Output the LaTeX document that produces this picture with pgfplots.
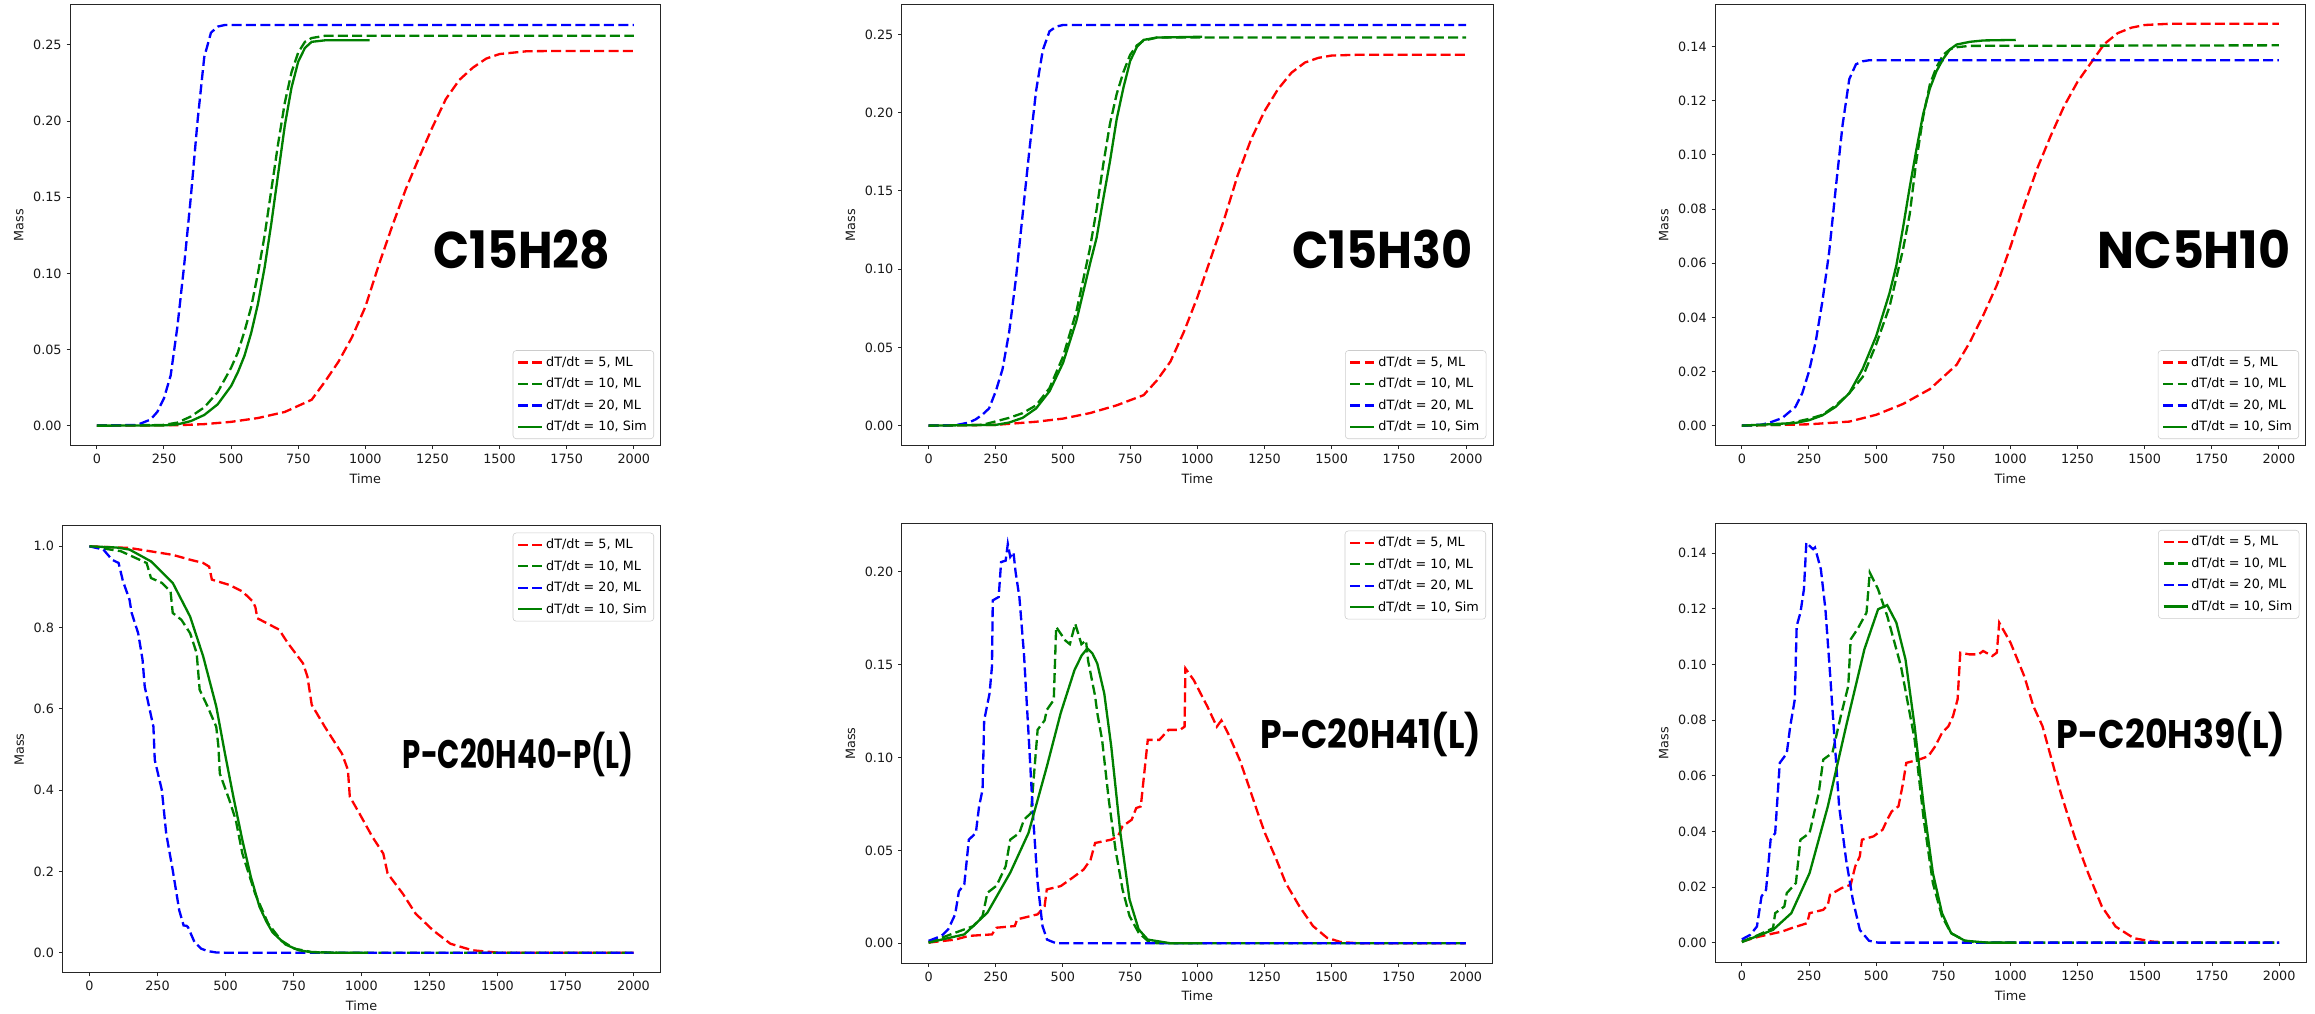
\documentclass[border=0pt]{standalone}
\usepackage{pgfplots}
\pgfplotsset{compat=1.18}
\usepackage{fontspec}
\setmainfont{DejaVu Sans}
\newfontfamily\bigfont{Poppins}
\definecolor{mplgreen}{RGB}{0,128,0}
\pgfplotsset{
  rd/.style={color=red, line width=0.058cm, dash pattern=on 0.25cm off 0.108cm},
  gd/.style={color=mplgreen, line width=0.058cm, dash pattern=on 0.25cm off 0.108cm},
  bd/.style={color=blue, line width=0.058cm, dash pattern=on 0.25cm off 0.108cm},
  gs/.style={color=mplgreen, line width=0.058cm, solid},
  mlax/.style={
    scale only axis,
    anchor=south west,
    xmin=-100, xmax=2100,
    xtick={0,250,500,750,1000,1250,1500,1750,2000},
    tick pos=left,
    tick align=outside,
    major tick length=0.085cm,
    every tick/.style={line width=0.025cm, black!85},
    axis line style={line width=0.025cm, black!85},
    xlabel={Time}, ylabel={Mass},
    /pgf/number format/assume math mode=true,
    /pgf/number format/set thousands separator={},
    tick label style={font=\fontsize{9.1}{11}\selectfont, text=black!90},
    label style={font=\fontsize{9.1}{11}\selectfont, text=black!90},
    yticklabel style={/pgf/number format/.cd, fixed, fixed zerofill, precision=2},
    legend style={font=\fontsize{9.1}{11}\selectfont, draw=black!20, rounded corners=0.08cm,
      fill=white, fill opacity=0.8, text opacity=1, row sep=0.1cm, inner xsep=0.1cm, inner ysep=0.08cm},
    legend cell align=left,
  },
  lr/.style={legend style={at={(1,0)}, anchor=south east, xshift=-0.167cm, yshift=0.167cm}},
  ur/.style={legend style={at={(1,1)}, anchor=north east, xshift=-0.167cm, yshift=-0.167cm}},
}
\begin{document}
\begin{tikzpicture}
\path[use as bounding box] (0,0) rectangle (57.875cm,25.35cm);

% ---------- Panel 1: C15H28 ----------
\begin{axis}[mlax, lr, at={(1.75cm,14.2075cm)}, width=14.7675cm, height=11.0175cm,
  ymin=-0.01315, ymax=0.2762, ytick={0,0.05,0.1,0.15,0.2,0.25}]
\addplot[rd] coordinates {(0,0) (300,0.0003) (400,0.001) (500,0.0025) (600,0.005) (700,0.009) (800,0.017) (850,0.029) (900,0.042) (950,0.058) (1000,0.078) (1050,0.1055) (1100,0.131) (1150,0.155) (1200,0.176) (1250,0.196) (1300,0.2145) (1350,0.227) (1400,0.235) (1450,0.241) (1500,0.244) (1600,0.2458) (1700,0.246) (2000,0.246)};
\addlegendentry{dT/dt = 5, ML}
\addplot[gd] coordinates {(0,0) (250,0.0005) (300,0.002) (350,0.006) (400,0.012) (450,0.022) (500,0.038) (525,0.048) (550,0.062) (575,0.078) (600,0.100) (625,0.125) (650,0.155) (675,0.185) (700,0.212) (725,0.232) (750,0.245) (775,0.252) (800,0.2545) (850,0.256) (2000,0.256)};
\addlegendentry{dT/dt = 10, ML}
\addplot[bd] coordinates {(0,0) (150,0.0005) (200,0.004) (225,0.009) (250,0.018) (275,0.033) (300,0.065) (325,0.105) (350,0.15) (375,0.2) (400,0.242) (425,0.258) (450,0.262) (475,0.263) (2000,0.263)};
\addlegendentry{dT/dt = 20, ML}
\addplot[gs] coordinates {(0,0) (250,0.0002) (300,0.0008) (350,0.003) (400,0.007) (450,0.014) (500,0.026) (525,0.035) (550,0.046) (575,0.061) (600,0.080) (625,0.104) (650,0.133) (675,0.165) (700,0.197) (725,0.222) (750,0.239) (775,0.248) (800,0.252) (850,0.253) (1016,0.253)};
\addlegendentry{dT/dt = 10, Sim}
\end{axis}

% ---------- Panel 2: C15H30 ----------
\begin{axis}[mlax, lr, at={(22.5425cm,14.2075cm)}, width=14.7825cm, height=11.0175cm,
  ymin=-0.0128, ymax=0.2688, ytick={0,0.05,0.1,0.15,0.2,0.25}]
\addplot[rd] coordinates {(0,0) (250,0.0005) (400,0.0025) (500,0.0045) (600,0.008) (700,0.013) (800,0.0195) (850,0.029) (900,0.041) (950,0.060) (1000,0.082) (1050,0.107) (1100,0.132) (1150,0.160) (1200,0.183) (1250,0.201) (1300,0.215) (1350,0.2255) (1400,0.232) (1450,0.235) (1500,0.2365) (1600,0.237) (2000,0.237)};
\addlegendentry{dT/dt = 5, ML}
\addplot[gd] coordinates {(0,0) (200,0.0005) (300,0.005) (350,0.008) (400,0.013) (450,0.024) (500,0.044) (550,0.073) (600,0.113) (625,0.138) (650,0.167) (675,0.193) (700,0.212) (725,0.226) (750,0.237) (775,0.243) (800,0.246) (850,0.248) (2000,0.248)};
\addlegendentry{dT/dt = 10, ML}
\addplot[bd] coordinates {(0,0) (100,0.0003) (150,0.002) (175,0.004) (200,0.007) (225,0.011) (250,0.022) (275,0.036) (300,0.060) (325,0.094) (350,0.135) (375,0.176) (400,0.214) (425,0.240) (450,0.252) (475,0.255) (500,0.256) (2000,0.256)};
\addlegendentry{dT/dt = 20, ML}
\addplot[gs] coordinates {(0,0) (250,0.0005) (300,0.002) (350,0.005) (400,0.011) (450,0.022) (500,0.040) (550,0.067) (575,0.085) (600,0.103) (625,0.120) (650,0.145) (675,0.169) (700,0.196) (725,0.216) (750,0.233) (775,0.242) (800,0.2465) (850,0.248) (1018,0.2485)};
\addlegendentry{dT/dt = 10, Sim}
\end{axis}

% ---------- Panel 3: NC5H10 ----------
\begin{axis}[mlax, lr, at={(42.875cm,14.2075cm)}, width=14.7675cm, height=11.0175cm,
  ymin=-0.0074, ymax=0.1554, ytick={0,0.02,0.04,0.06,0.08,0.1,0.12,0.14}]
\addplot[rd] coordinates {(0,0) (250,0.0005) (400,0.0015) (500,0.004) (600,0.008) (700,0.0135) (800,0.0225) (850,0.031) (900,0.041) (950,0.052) (1000,0.066) (1050,0.081) (1100,0.095) (1150,0.107) (1200,0.118) (1250,0.127) (1300,0.134) (1350,0.141) (1400,0.145) (1450,0.147) (1500,0.148) (1600,0.1485) (2000,0.1485)};
\addlegendentry{dT/dt = 5, ML}
\addplot[gd] coordinates {(0,0) (150,0.0003) (250,0.0025) (300,0.004) (350,0.0075) (400,0.012) (450,0.018) (500,0.030) (550,0.044) (600,0.065) (625,0.078) (650,0.098) (675,0.114) (700,0.126) (725,0.1325) (750,0.137) (775,0.139) (800,0.1398) (850,0.1403) (2000,0.1405)};
\addlegendentry{dT/dt = 10, ML}
\addplot[bd] coordinates {(0,0) (75,0.0004) (100,0.001) (150,0.0028) (200,0.007) (225,0.012) (250,0.020) (275,0.031) (300,0.046) (325,0.064) (350,0.088) (375,0.111) (400,0.128) (425,0.1335) (450,0.1346) (475,0.135) (2000,0.135)};
\addlegendentry{dT/dt = 20, ML}
\addplot[gs] coordinates {(0,0) (200,0.001) (250,0.002) (300,0.0038) (350,0.007) (400,0.012) (450,0.021) (500,0.033) (550,0.049) (575,0.059) (600,0.073) (625,0.088) (650,0.102) (675,0.115) (700,0.1245) (725,0.131) (750,0.1355) (775,0.139) (800,0.1408) (850,0.1418) (900,0.1423) (1020,0.1425)};
\addlegendentry{dT/dt = 10, Sim}
\end{axis}

% ---------- Panel 4: P-C20H40-P(L) ----------
\begin{axis}[mlax, ur, at={(1.5575cm,1.025cm)}, width=14.96cm, height=11.175cm,
  ymin=-0.05, ymax=1.05, ytick={0,0.2,0.4,0.6,0.8,1.0},
  yticklabel style={/pgf/number format/.cd, fixed, fixed zerofill, precision=1}]
\addplot[rd] coordinates {(0,1.0) (147,0.996) (306,0.979) (370,0.967) (418,0.959) (440,0.950) (450,0.918) (514,0.905) (562,0.889) (601,0.864) (610,0.85) (617,0.823) (697,0.795) (729,0.762) (785,0.712) (801,0.680) (817,0.610) (865,0.556) (928,0.490) (950,0.450) (957,0.384) (992,0.343) (1040,0.285) (1080,0.244) (1096,0.195) (1152,0.145) (1199,0.096) (1263,0.055) (1327,0.022) (1407,0.006) (1502,0) (2000,0)};
\addlegendentry{dT/dt = 5, ML}
\addplot[gd] coordinates {(0,1.0) (115,0.988) (210,0.959) (226,0.922) (266,0.910) (298,0.889) (306,0.836) (338,0.819) (370,0.786) (394,0.737) (405,0.647) (434,0.606) (466,0.556) (474,0.507) (479,0.441) (514,0.376) (538,0.326) (562,0.244) (609,0.145) (657,0.0715) (705,0.030) (753,0.010) (817,0.0016) (912,0) (2000,0)};
\addlegendentry{dT/dt = 10, ML}
\addplot[bd] coordinates {(0,1.0) (51,0.992) (83,0.967) (107,0.959) (123,0.914) (147,0.869) (155,0.836) (179,0.786) (195,0.721) (203,0.655) (235,0.556) (240,0.474) (266,0.400) (282,0.293) (306,0.203) (330,0.104) (346,0.067) (357,0.066) (362,0.063) (386,0.026) (410,0.010) (434,0.004) (466,0.0005) (498,0) (2000,0)};
\addlegendentry{dT/dt = 20, ML}
\addplot[gs] coordinates {(0,1.0) (100,0.997) (147,0.992) (226,0.963) (306,0.910) (370,0.827) (418,0.729) (466,0.606) (498,0.490) (530,0.380) (562,0.277) (593,0.187) (625,0.113) (650,0.077) (673,0.050) (721,0.020) (769,0.006) (817,0.001) (900,0) (1024,0)};
\addlegendentry{dT/dt = 10, Sim}
\end{axis}

% ---------- Panel 5: P-C20H41(L) ----------
\begin{axis}[mlax, ur, at={(22.5425cm,1.2675cm)}, width=14.775cm, height=10.9825cm,
  ymin=-0.01075, ymax=0.2257, ytick={0,0.05,0.1,0.15,0.2}]
\addplot[rd] coordinates {(0,0.0004) (99,0.002) (150,0.004) (236,0.0048) (253,0.0084) (321,0.0093) (330,0.0129) (406,0.0156) (432,0.020) (440,0.029) (492,0.0308) (535,0.0352) (577,0.0397) (603,0.045) (620,0.054) (680,0.0558) (705,0.0576) (722,0.063) (756,0.0665) (773,0.0728) (790,0.0737) (799,0.0862) (816,0.1095) (859,0.1095) (893,0.1149) (936,0.1149) (953,0.1166) (956,0.148) (987,0.1417) (1038,0.1274) (1073,0.1166) (1090,0.120) (1115,0.113) (1158,0.0988) (1184,0.088) (1226,0.070) (1252,0.0594) (1295,0.045) (1329,0.0326) (1380,0.020) (1431,0.0093) (1483,0.003) (1534,0.0007) (1602,0) (2000,0)};
\addlegendentry{dT/dt = 5, ML}
\addplot[gd] coordinates {(0,0.0004) (133,0.0075) (167,0.0093) (201,0.0147) (219,0.0272) (253,0.031) (287,0.0415) (304,0.0558) (338,0.0594) (355,0.0665) (381,0.0701) (406,0.115) (432,0.120) (440,0.1256) (466,0.131) (475,0.1703) (509,0.163) (526,0.161) (546,0.172) (569,0.161) (586,0.163) (594,0.152) (620,0.133) (628,0.124) (646,0.1095) (671,0.077) (696,0.0504) (722,0.029) (748,0.0147) (782,0.0057) (816,0.0013) (850,0) (2000,0)};
\addlegendentry{dT/dt = 10, ML}
\addplot[bd] coordinates {(0,0.0013) (48,0.004) (73,0.0075) (99,0.0156) (113,0.028) (133,0.0317) (150,0.0558) (176,0.0594) (188,0.0737) (201,0.0827) (207,0.120) (227,0.1345) (236,0.149) (239,0.1846) (261,0.1864) (270,0.2052) (287,0.206) (295,0.215) (304,0.208) (316,0.2105) (324,0.1998) (338,0.1864) (355,0.156) (372,0.113) (389,0.0683) (406,0.0326) (424,0.0093) (441,0.002) (475,0) (2000,0)};
\addlegendentry{dT/dt = 20, ML}
\addplot[gs] coordinates {(0,0.0004) (133,0.0048) (219,0.0165) (304,0.038) (372,0.0594) (440,0.095) (492,0.124) (543,0.147) (570,0.155) (591,0.1587) (610,0.156) (628,0.1506) (654,0.1345) (680,0.106) (714,0.0594) (748,0.0236) (782,0.0075) (816,0.002) (902,0) (1018,0)};
\addlegendentry{dT/dt = 10, Sim}
\end{axis}

% ---------- Panel 6: P-C20H39(L) ----------
\begin{axis}[mlax, ur, at={(42.875cm,1.2825cm)}, width=14.775cm, height=10.985cm,
  ymin=-0.0072, ymax=0.1507, ytick={0,0.02,0.04,0.06,0.08,0.1,0.12,0.14}]
\addplot[rd] coordinates {(0,0.0004) (65,0.0022) (150,0.004) (184,0.0052) (243,0.007) (252,0.0106) (303,0.0118) (320,0.0136) (328,0.0172) (371,0.0196) (405,0.0208) (422,0.0274) (439,0.031) (447,0.037) (490,0.0382) (524,0.0406) (541,0.0442) (558,0.0472) (583,0.049) (600,0.0574) (612,0.0646) (660,0.0658) (694,0.067) (720,0.0706) (745,0.0754) (769,0.0778) (786,0.0814) (803,0.0874) (813,0.1042) (847,0.1036) (881,0.1036) (898,0.1048) (932,0.103) (949,0.1042) (958,0.115) (1000,0.1078) (1051,0.0958) (1085,0.085) (1119,0.0778) (1153,0.0658) (1187,0.0538) (1238,0.0382) (1289,0.025) (1340,0.013) (1391,0.0058) (1459,0.0016) (1527,0.0004) (1595,0) (2000,0)};
\addlegendentry{dT/dt = 5, ML}
\addplot[gd] coordinates {(0,0.0004) (48,0.0022) (116,0.0052) (124,0.0106) (158,0.013) (167,0.0178) (201,0.0214) (218,0.037) (252,0.0394) (269,0.0466) (286,0.0538) (303,0.0658) (337,0.0682) (354,0.0754) (371,0.0826) (396,0.0922) (405,0.109) (430,0.1126) (464,0.1186) (476,0.133) (507,0.127) (541,0.1174) (592,0.0994) (643,0.073) (677,0.0442) (711,0.0214) (745,0.0094) (779,0.0034) (830,0.0007) (881,0) (2000,0)};
\addlegendentry{dT/dt = 10, ML}
\addplot[bd] coordinates {(0,0.0012) (31,0.0028) (56,0.0058) (73,0.0166) (90,0.019) (107,0.037) (124,0.0394) (141,0.0646) (167,0.068) (180,0.0778) (197,0.0874) (204,0.1138) (218,0.1186) (231,0.127) (240,0.1438) (252,0.1426) (265,0.1414) (272,0.142) (294,0.1342) (311,0.1198) (328,0.097) (345,0.073) (362,0.049) (388,0.0298) (413,0.0154) (439,0.0046) (473,0.0007) (507,0) (2000,0)};
\addlegendentry{dT/dt = 20, ML}
\addplot[gs] coordinates {(0,0.0002) (116,0.0046) (184,0.0106) (252,0.025) (320,0.049) (388,0.0778) (456,0.1054) (507,0.1198) (541,0.1213) (575,0.115) (609,0.1018) (643,0.0778) (677,0.049) (711,0.025) (745,0.0106) (779,0.0034) (830,0.0007) (915,0) (1020,0)};
\addlegendentry{dT/dt = 10, Sim}
\end{axis}

% ---------- Big compound labels ----------
\begin{scope}[every node/.style={inner sep=0pt, anchor=base}]
\node[font=\bigfont\bfseries\fontsize{35}{40}\selectfont, xscale=0.96, yscale=1.05] at (13.05cm,18.64cm) {C15H28};
\node[font=\bigfont\bfseries\fontsize{35}{40}\selectfont, xscale=0.97, yscale=1.05] at (34.5625cm,18.64cm) {C15H30};
\node[font=\bigfont\bfseries\fontsize{35}{40}\selectfont, xscale=1.0, yscale=1.05] at (54.85cm,18.64cm) {NC5H10};
\node[font=\bigfont\bfseries\fontsize{27}{32}\selectfont, xscale=0.77, yscale=1.05] at (12.95cm,6.14cm) {P-C20H40-P(L)};
\node[font=\bigfont\bfseries\fontsize{27}{32}\selectfont, xscale=0.91, yscale=1.05] at (34.265cm,6.64cm) {P-C20H41(L)};
\node[font=\bigfont\bfseries\fontsize{27}{32}\selectfont, xscale=0.915, yscale=1.05] at (54.275cm,6.64cm) {P-C20H39(L)};
\end{scope}
\end{tikzpicture}
\end{document}
